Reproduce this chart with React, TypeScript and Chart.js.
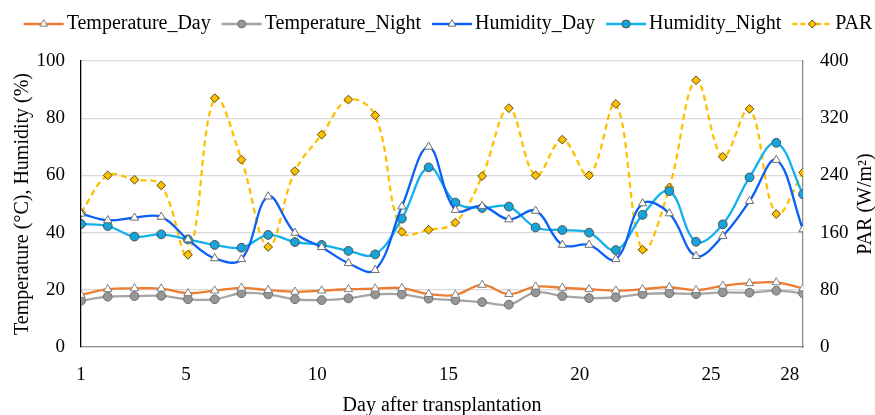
import React, { useEffect, useRef } from 'react';
import { Chart, registerables } from 'chart.js';

Chart.register(...registerables);

const days = [1, 2, 3, 4, 5, 6, 7, 8, 9, 10, 11, 12, 13, 14, 15, 16, 17, 18, 19, 20, 21, 22, 23, 24, 25, 26, 27, 28];
const tickDays = [1, 5, 10, 15, 20, 25, 28];
const temperatureDay = [18.2, 20.2, 20.5, 20.4, 18.8, 19.7, 20.7, 19.9, 19.3, 19.7, 20.2, 20.4, 20.6, 18.5, 18.2, 21.7, 18.5, 21.1, 20.7, 20.2, 19.7, 20.2, 20.9, 19.9, 21.4, 22.3, 22.6, 20.5];
const temperatureNight = [16.2, 17.6, 17.8, 17.9, 16.7, 16.7, 18.8, 18.4, 16.7, 16.4, 17.0, 18.4, 18.4, 16.9, 16.4, 15.7, 14.8, 19.1, 17.8, 17.1, 17.4, 18.5, 18.8, 18.5, 19.1, 19.0, 19.7, 18.8];
const humidityDay = [46.6, 44.3, 45.2, 45.5, 37.6, 31.0, 30.7, 52.6, 39.9, 34.9, 29.3, 26.9, 49.1, 70.0, 47.9, 49.3, 44.6, 47.6, 35.7, 35.7, 30.7, 50.2, 46.7, 31.8, 38.8, 51.0, 65.4, 41.1];
const humidityNight = [43.0, 42.3, 38.6, 39.4, 37.6, 35.7, 34.7, 39.2, 36.7, 35.7, 33.6, 32.4, 44.9, 62.8, 50.5, 48.6, 49.1, 41.8, 40.9, 40.0, 33.9, 46.2, 54.5, 36.8, 42.9, 59.3, 71.4, 53.4];
const par = [188, 240, 234, 226, 129, 348, 262, 140, 246, 297, 346, 324, 161, 164, 174, 239, 334, 240, 290, 240, 340, 136, 223, 373, 266, 333, 186, 244];

const FONT = "'Liberation Serif', 'Times New Roman', serif";

type SeriesStyle = {
  label: string;
  data: number[];
  axis: 'y' | 'y1';
  color: string;
  dash: number[];
  pointStyle: 'triangle' | 'circle' | 'rectRot';
  radius: number;
  fill: string;
  border: string;
};

const series: SeriesStyle[] = [
  { label: 'Temperature_Day', data: temperatureDay, axis: 'y', color: '#ED7D31', dash: [], pointStyle: 'triangle', radius: 4.8, fill: '#ffffff', border: '#7f7f7f' },
  { label: 'Temperature_Night', data: temperatureNight, axis: 'y', color: '#A5A5A5', dash: [], pointStyle: 'circle', radius: 4.4, fill: '#979797', border: '#6e6e6e' },
  { label: 'Humidity_Day', data: humidityDay, axis: 'y', color: '#0A5FF5', dash: [], pointStyle: 'triangle', radius: 4.8, fill: '#ffffff', border: '#6e6e6e' },
  { label: 'Humidity_Night', data: humidityNight, axis: 'y', color: '#12B0EC', dash: [], pointStyle: 'circle', radius: 4.4, fill: '#13A5DC', border: '#505050' },
  { label: 'PAR', data: par, axis: 'y1', color: '#FFC000', dash: [6, 4], pointStyle: 'rectRot', radius: 4.4, fill: '#FFC000', border: '#5a4a10' },
];

function makeLegendImage(s: SeriesStyle): HTMLCanvasElement {
  const c = document.createElement('canvas');
  c.width = 46;
  c.height = 14;
  const ctx = c.getContext('2d')!;
  ctx.strokeStyle = s.color;
  ctx.lineWidth = 2.5;
  ctx.setLineDash(s.dash.length ? [5, 3] : []);
  ctx.beginPath();
  ctx.moveTo(5, 7);
  ctx.lineTo(45, 7);
  ctx.stroke();
  ctx.setLineDash([]);
  ctx.fillStyle = s.fill;
  ctx.strokeStyle = s.border;
  ctx.lineWidth = 1;
  const cx = 25, cy = 7, r = s.radius - 0.4;
  ctx.beginPath();
  if (s.pointStyle === 'circle') {
    ctx.arc(cx, cy, r, 0, Math.PI * 2);
  } else if (s.pointStyle === 'triangle') {
    ctx.moveTo(cx, cy - r);
    ctx.lineTo(cx + r * 0.866, cy + r * 0.5);
    ctx.lineTo(cx - r * 0.866, cy + r * 0.5);
    ctx.closePath();
  } else {
    ctx.moveTo(cx, cy - r);
    ctx.lineTo(cx + r, cy);
    ctx.lineTo(cx, cy + r);
    ctx.lineTo(cx - r, cy);
    ctx.closePath();
  }
  ctx.fill();
  ctx.stroke();
  return c;
}

export default function App() {
  const ref = useRef<HTMLCanvasElement | null>(null);

  useEffect(() => {
    document.body.style.margin = '0';
    if (!ref.current) return;
    const imgs = series.map(makeLegendImage);

    const layoutPlugin = {
      id: 'layoutTweaks',
      beforeInit(chart: any) {
        const legend = chart.legend;
        if (legend) {
          const origFit = legend.fit;
          legend.fit = function () {
            origFit.call(this);
            this.height = 61;
          };
        }
      },
      afterLayout(chart: any) {
        if (chart.legend) {
          chart.legend.left += 12;
          chart.legend.right += 12;
        }
      },
      afterDraw(chart: any) {
        const ctx = chart.ctx;
        const area = chart.chartArea;
        ctx.save();
        ctx.translate(866, (area.top + area.bottom) / 2);
        ctx.rotate(-Math.PI / 2);
        ctx.font = `20px ${FONT}`;
        ctx.fillStyle = '#000';
        ctx.textAlign = 'center';
        ctx.textBaseline = 'middle';
        ctx.fillText('PAR (W/m²)', 0, 0);
        ctx.restore();
      },
    };

    const chart = new Chart(ref.current, {
      type: 'line',
      data: {
        datasets: series.map((s) => ({
          label: s.label,
          data: s.data.map((v, i) => ({ x: days[i], y: v })),
          xAxisID: 'x',
          yAxisID: s.axis,
          borderColor: s.color,
          backgroundColor: s.fill,
          borderWidth: 2.3,
          borderDash: s.dash,
          tension: 0.38,
          pointStyle: s.pointStyle,
          pointRadius: s.radius,
          pointBackgroundColor: s.fill,
          pointBorderColor: s.border,
          pointBorderWidth: 1,
          fill: false,
        })),
      },
      options: {
        responsive: false,
        animation: false,
        layout: { padding: 0 },
        plugins: {
          tooltip: { enabled: false },
          legend: {
            position: 'top',
            labels: {
              usePointStyle: true,
              pointStyleWidth: 30,
              padding: 14,
              color: '#000',
              font: { family: FONT, size: 20 },
              generateLabels: () =>
                series.map((s, i) => ({
                  text: s.label,
                  pointStyle: imgs[i] as any,
                  datasetIndex: i,
                  hidden: false,
                  lineWidth: 0,
                  fillStyle: 'rgba(0,0,0,0)',
                  strokeStyle: 'rgba(0,0,0,0)',
                  fontColor: '#000',
                })),
            },
          },
        },
        scales: {
          x: {
            type: 'linear',
            position: 'bottom',
            display: false,
            min: 1,
            max: 28,
          },
          xLabels: {
            type: 'linear',
            position: 'bottom',
            min: 1,
            max: 28.5,
            afterBuildTicks: (scale: any) => {
              scale.ticks = tickDays.map((v) => ({ value: v }));
            },
            afterFit: (scale: any) => {
              scale.height = 68;
            },
            grid: { display: false, drawTicks: false },
            border: { color: '#8c8c8c', width: 1.3 },
            ticks: {
              color: '#000',
              font: { family: FONT, size: 19 },
              padding: 17,
              autoSkip: false,
              maxRotation: 0,
              callback: (v: any) => String(v),
            },
            title: {
              display: true,
              text: 'Day after transplantation',
              color: '#000',
              font: { family: FONT, size: 20 },
              padding: { top: 0, bottom: -3 },
            },
          },
          y: {
            position: 'left',
            min: 0,
            max: 100,
            afterFit: (scale: any) => {
              scale.width = 81;
            },
            grid: { color: '#d9d9d9', lineWidth: 1.3, drawTicks: false },
            border: { color: '#000', width: 1.3 },
            ticks: {
              stepSize: 20,
              color: '#000',
              font: { family: FONT, size: 19 },
              padding: 16,
            },
            title: {
              display: true,
              text: 'Temperature (°C), Humidity (%)',
              color: '#000',
              font: { family: FONT, size: 20 },
              padding: { top: 11, bottom: 0 },
            },
          },
          y1: {
            position: 'right',
            min: 0,
            max: 400,
            afterFit: (scale: any) => {
              scale.width = 72;
            },
            grid: { display: false, drawTicks: false },
            border: { color: '#8c8c8c', width: 1.3 },
            ticks: {
              stepSize: 80,
              color: '#000',
              font: { family: FONT, size: 19 },
              padding: 17,
            },
          },
        },
      },
      plugins: [layoutPlugin],
    } as any);

    return () => chart.destroy();
  }, []);

  return (
    <div style={{ width: 875, height: 415 }}>
      <canvas ref={ref} width={875} height={415} style={{ width: 875, height: 415, display: 'block' }} />
    </div>
  );
}
